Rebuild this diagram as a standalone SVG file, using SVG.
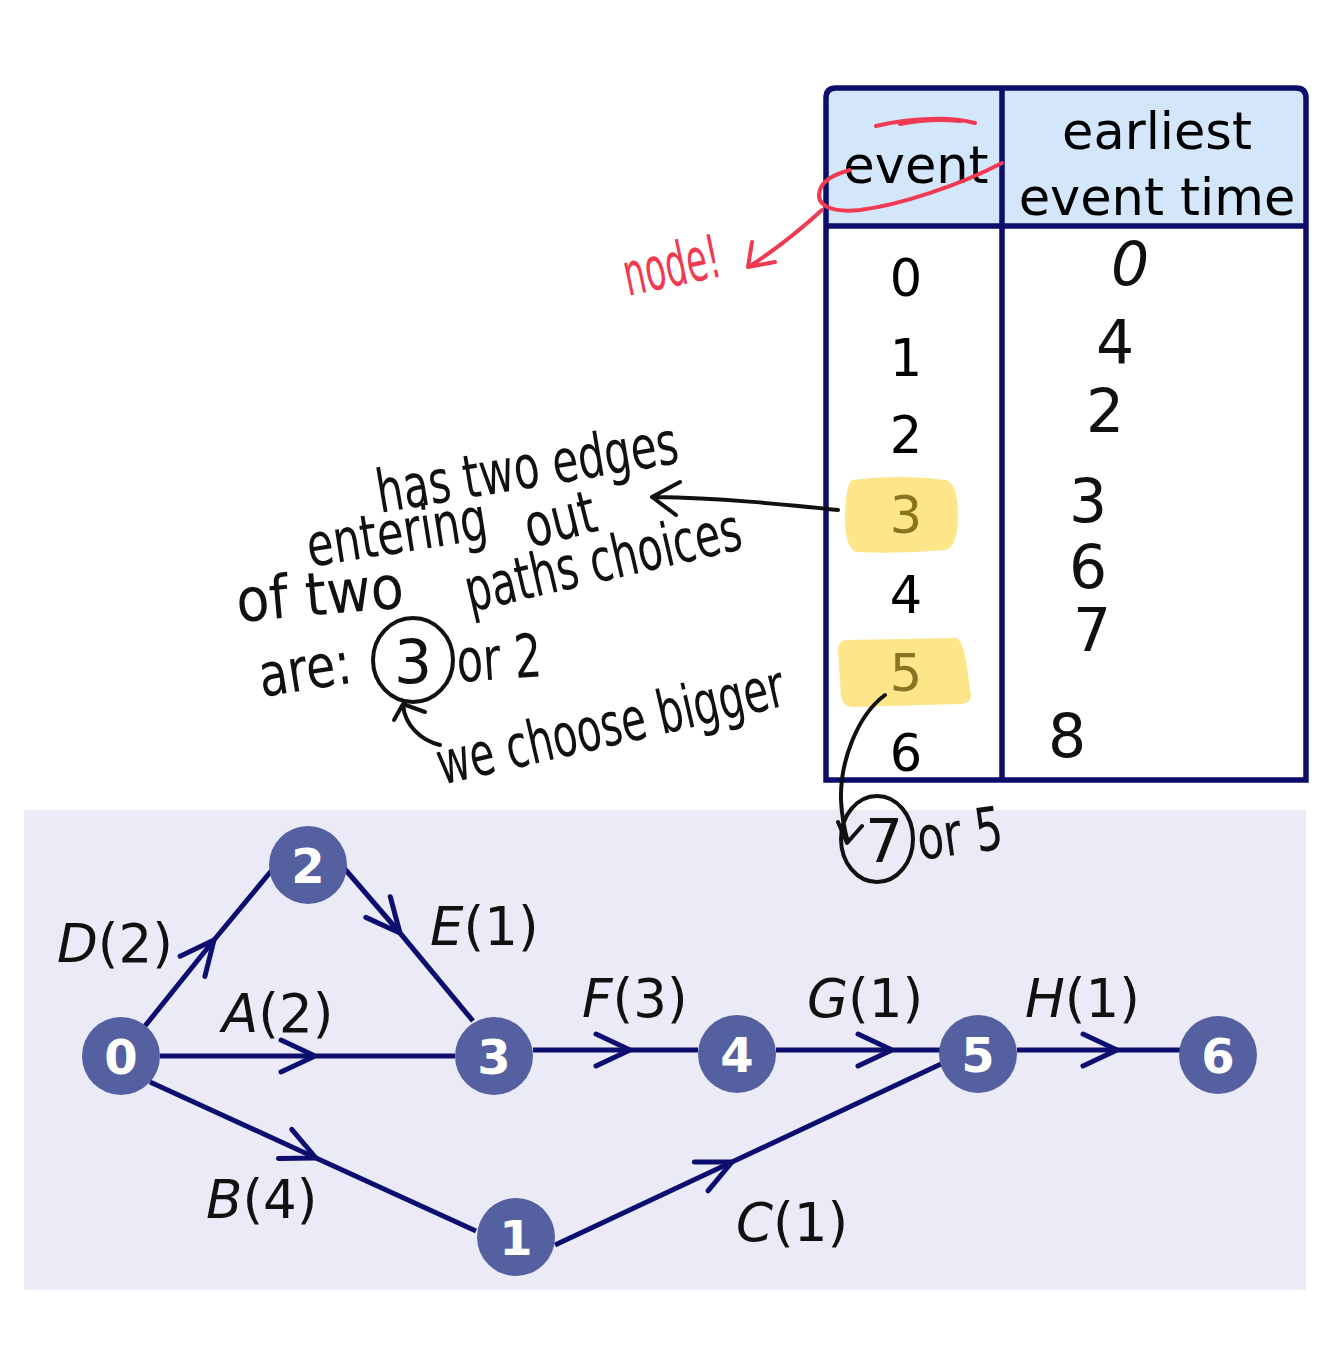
<svg xmlns="http://www.w3.org/2000/svg" width="1334" height="1351" viewBox="0 0 1334 1351">
<style>
.tbl{font-family:"DejaVu Sans","Liberation Sans",sans-serif;font-size:51px;fill:#000;text-anchor:middle}
.hdr{font-size:51px}
.hand{font-family:"DejaVu Sans","Liberation Sans",sans-serif;fill:#111;font-size:60px}
.red{fill:#ef3a52}
.ink{fill:none;stroke:#111;stroke-width:4;stroke-linecap:round;stroke-linejoin:round}
.redink{fill:none;stroke:#ef3a52;stroke-width:4;stroke-linecap:round;stroke-linejoin:round}
.edge{fill:none;stroke:#0e0e70;stroke-width:5;marker-mid:url(#chev)}
.node circle{fill:#5560a0}
.node text{font-family:"DejaVu Sans","Liberation Sans",sans-serif;font-weight:bold;font-size:48px;fill:#fff;text-anchor:middle}
.lbl{font-family:"DejaVu Sans","Liberation Sans",sans-serif;font-size:53px;fill:#111}
.hl{fill:#fde58a}
</style>
<defs>
<marker id="chev" markerUnits="userSpaceOnUse" viewBox="-40 -20 44 40" refX="0" refY="0" markerWidth="44" markerHeight="40" orient="auto">
<path d="M-34,-16 L0,0 L-34,16" fill="none" stroke="#0e0e70" stroke-width="5" stroke-linecap="round" stroke-linejoin="round"/>
</marker>
</defs>
<rect width="1334" height="1351" fill="#fff"/>
<rect id="panel" x="24" y="810" width="1282" height="480" fill="#ebebf7"/>

<g id="table">
<path d="M826,226 L826,98 Q826,88 836,88 L1296,88 Q1306,88 1306,98 L1306,226 Z" fill="#d3e6fa"/>
<path class="hl" d="M852,480 Q900,474 946,480 Q958,484 958,515 Q958,546 946,550 Q900,554 856,552 Q845,548 845,516 Q846,484 852,480 Z"/>
<path class="hl" d="M846,640 L956,638 Q962,640 966,660 L971,696 Q970,704 960,704 L852,707 Q842,706 841,696 L838,650 Q838,641 846,640 Z"/>
<path d="M826,226 L826,98 Q826,88 836,88 L1296,88 Q1306,88 1306,98 L1306,780 L826,780 Z M826,226 L1306,226 M1002,88 L1002,780" fill="none" stroke="#0d0d6b" stroke-width="5.5"/>
<text class="tbl hdr" x="916" y="183">event</text>
<text class="tbl hdr" x="1157" y="149">earliest</text>
<text class="tbl hdr" x="1157" y="215">event time</text>
<text class="tbl" x="906" y="296">0</text>
<text class="tbl" x="906" y="376">1</text>
<text class="tbl" x="906" y="453">2</text>
<text class="tbl" x="906" y="533" style="fill:#8a7420">3</text>
<text class="tbl" x="906" y="613">4</text>
<text class="tbl" x="906" y="691" style="fill:#8a7420">5</text>
<text class="tbl" x="906" y="771">6</text>
</g>

<g id="times">
<text class="hand" x="1130" y="285" text-anchor="middle" font-style="italic" font-size="56">0</text>
<text class="hand" x="1115" y="363" text-anchor="middle" font-size="50">4</text>
<text class="hand" x="1105" y="432" text-anchor="middle" font-size="56">2</text>
<text class="hand" x="1088" y="522" text-anchor="middle" font-size="68">3</text>
<text class="hand" x="1088" y="588" text-anchor="middle" font-size="58">6</text>
<text class="hand" x="1092" y="651" text-anchor="middle" font-size="58">7</text>
<text class="hand" x="1067" y="757" text-anchor="middle" font-size="72">8</text>
</g>

<g id="red-notes">
<path class="redink" d="M876,126 Q900,120 930,119 Q955,118 975,123 M900,124 Q930,118 960,121"/>
<path class="redink" d="M1002,163 C 960,185 900,205 860,210 C 830,213 815,205 820,190 C 823,180 835,174 850,170"/>
<path class="redink" d="M822,210 C 800,230 775,250 750,266 M752,242 L748,267 L775,262"/>
<text class="hand red" transform="translate(628,296) rotate(-12)" textLength="98" lengthAdjust="spacingAndGlyphs" font-size="66">node!</text>
</g>

<g id="black-notes">
<text class="hand" transform="translate(380,513) rotate(-9.5)" textLength="305" lengthAdjust="spacingAndGlyphs">has two edges</text>
<text class="hand" transform="translate(310,567) rotate(-9)" textLength="182" lengthAdjust="spacingAndGlyphs">entering</text>
<text class="hand" transform="translate(530,548) rotate(-14)" textLength="72" lengthAdjust="spacingAndGlyphs">out</text>
<text class="hand" transform="translate(238,622) rotate(-5)" textLength="168" lengthAdjust="spacingAndGlyphs">of two</text>
<text class="hand" transform="translate(470,612) rotate(-13)" textLength="282" lengthAdjust="spacingAndGlyphs">paths choices</text>
<text class="hand" transform="translate(262,697) rotate(-9)" textLength="93" lengthAdjust="spacingAndGlyphs" font-size="66">are:</text>
<ellipse class="ink" cx="413" cy="660" rx="40" ry="42"/>
<text class="hand" x="413" y="683" text-anchor="middle" font-size="62">3</text>
<text class="hand" transform="translate(458,682) rotate(-4)" textLength="85" lengthAdjust="spacingAndGlyphs" font-size="56">or 2</text>
<path class="ink" d="M440,745 C 420,740 405,725 403,705 M394,720 L403,704 L425,712"/>
<text class="hand" transform="translate(442,785) rotate(-13)" textLength="355" lengthAdjust="spacingAndGlyphs">we choose bigger</text>
<path class="ink" d="M838,510 C 780,504 720,498 655,497 M680,482 L652,497 L676,515"/>
<path class="ink" d="M885,695 C 858,715 840,760 841,800 C 842,820 845,832 848,842 M838,822 L847,843 L862,826"/>
<ellipse class="ink" cx="877" cy="839" rx="36" ry="43"/>
<text class="hand" x="884" y="862" text-anchor="middle" font-size="58">7</text>
<text class="hand" transform="translate(920,860) rotate(-8)" textLength="86" lengthAdjust="spacingAndGlyphs" font-size="56">or 5</text>
</g>

<g id="connectors">
<path class="edge" d="M145,1026 L214,940 L272,870"/>
<path class="edge" d="M344,868 L400,933 L473,1021"/>
<path class="edge" d="M160,1056 L315,1056 L455,1056"/>
<path class="edge" d="M533,1050 L630,1050 L698,1050"/>
<path class="edge" d="M776,1050 L892,1050 L940,1050"/>
<path class="edge" d="M1017,1050 L1117,1050 L1180,1050"/>
<path class="edge" d="M150,1082 L316,1158 L476,1231"/>
<path class="edge" d="M555,1245 L732,1162 L941,1064"/>
</g>

<g id="edge-labels">
<text class="lbl" x="57" y="962"><tspan font-style="italic">D</tspan>(2)</text>
<text class="lbl" x="430" y="945"><tspan font-style="italic">E</tspan>(1)</text>
<text class="lbl" x="222" y="1032"><tspan font-style="italic">A</tspan>(2)</text>
<text class="lbl" x="582" y="1017"><tspan font-style="italic">F</tspan>(3)</text>
<text class="lbl" x="807" y="1017"><tspan font-style="italic">G</tspan>(1)</text>
<text class="lbl" x="1025" y="1017"><tspan font-style="italic">H</tspan>(1)</text>
<text class="lbl" x="206" y="1218"><tspan font-style="italic">B</tspan>(4)</text>
<text class="lbl" x="736" y="1241"><tspan font-style="italic">C</tspan>(1)</text>
</g>

<g id="node-0" class="node"><circle cx="121" cy="1056" r="39"/><text x="121" y="1074">0</text></g>
<g id="node-1" class="node"><circle cx="516" cy="1237" r="39"/><text x="516" y="1255">1</text></g>
<g id="node-2" class="node"><circle cx="308" cy="865" r="39"/><text x="308" y="883">2</text></g>
<g id="node-3" class="node"><circle cx="494" cy="1056" r="39"/><text x="494" y="1074">3</text></g>
<g id="node-4" class="node"><circle cx="737" cy="1054" r="39"/><text x="737" y="1072">4</text></g>
<g id="node-5" class="node"><circle cx="978" cy="1054" r="39"/><text x="978" y="1072">5</text></g>
<g id="node-6" class="node"><circle cx="1218" cy="1055" r="39"/><text x="1218" y="1073">6</text></g>
</svg>
